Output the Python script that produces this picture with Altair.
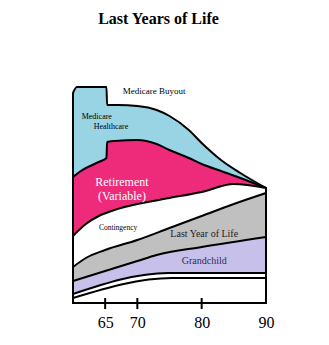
import altair as alt
import pandas as pd

# Boundary curves (height above baseline), drawn top layer first (painter's order)
medicare_ages = [60, 60.6, 65.2, 65.3, 67, 70, 73, 75, 78, 80, 83, 86, 90]
medicare_top = [210, 216, 216, 198, 198, 197, 193, 187, 173, 160, 143, 130, 115]

retire_ages = [60, 61, 62, 63, 64, 65.2, 65.3, 66.5, 70, 73, 75, 78, 80, 83, 86, 90]
retire_top = [126, 131, 135, 138, 141, 145, 161, 162, 163, 159, 153, 145, 139, 132, 125, 115]

conting_ages = [60, 62, 64, 66, 68, 70, 75, 80, 85, 90]
conting_top = [67, 79, 87, 92, 96, 99, 105, 111, 119, 115]

lastyear_ages = [60, 62, 65, 70, 75, 80, 85, 90]
lastyear_top = [36, 45, 53, 63, 75, 87, 99, 110]

grand_ages = [60, 65, 70, 73, 80, 90]
grand_top = [22, 32, 42, 48, 56, 66]

band2_ages = [60, 74.8, 90]
band2_top = [9, 30, 30]

band1_ages = [60, 75.4, 90]
band1_top = [5, 25, 25]

layer_colors = ["#98d4e4", "#ee2a7b", "#ffffff", "#c0c0c0", "#c6c0ea", "#ffffff", "#ffffff"]

label_text = ["Medicare Buyout", "Medicare", "Healthcare", "Retirement", "(Variable)",
              "Contingency", "Last Year of Life", "Grandchild"]
label_age = [72.6, 63.7, 65.9, 67.6, 67.6, 67.0, 80.4, 80.4]
label_val = [212, 186, 176, 121, 107, 75, 69, 42]
label_size = [9, 8, 8, 12, 12, 7.5, 10, 10]
label_color = ["black", "black", "black", "white", "white", "black", "#222222", "#2e2e5a"]

tick_ages = [65, 70, 80]
axis_labels = [65, 70, 80, 90]

W, H = 193, 230
xs = alt.Scale(domain=[60, 90], nice=False, zero=False)
ys = alt.Scale(domain=[0, 230], nice=False)
xaxis = alt.Axis(values=axis_labels, format="d", grid=False, ticks=False, domain=False,
                 labelFont="Liberation Serif", labelFontSize=16, labelColor="black",
                 labelPadding=11, labelFlush=False, title=None)

curves = [
    (medicare_ages, medicare_top), (retire_ages, retire_top), (conting_ages, conting_top),
    (lastyear_ages, lastyear_top), (grand_ages, grand_top), (band2_ages, band2_top),
    (band1_ages, band1_top),
]

layers = []
for (a, v), col in zip(curves, layer_colors):
    df = pd.DataFrame({"age": a, "val": v})
    layers.append(
        alt.Chart(df).mark_area(interpolate="monotone", color=col, stroke="black",
                                strokeWidth=2, opacity=1, strokeJoin="round").encode(
            x=alt.X("age:Q", scale=xs, axis=xaxis),
            y=alt.Y("val:Q", scale=ys, axis=None, stack=None),
        )
    )

lab_df = pd.DataFrame({"t": label_text, "age": label_age, "val": label_val,
                       "s": label_size, "c": label_color})
labels = alt.Chart(lab_df).mark_text(font="Liberation Serif", align="center", baseline="middle").encode(
    x=alt.X("age:Q", scale=xs, axis=xaxis),
    y=alt.Y("val:Q", scale=ys, axis=None),
    text="t:N",
    size=alt.Size("s:Q", scale=None, legend=None),
    color=alt.Color("c:N", scale=None, legend=None),
)

ticks = alt.Chart(pd.DataFrame({"age": tick_ages})).mark_rule(color="black", strokeWidth=2).encode(
    x=alt.X("age:Q", scale=xs, axis=xaxis),
    y=alt.value(H - 5),
    y2=alt.value(H + 6),
)

chart = alt.layer(*layers, ticks, labels).properties(
    width=W, height=H,
    background="white",
    title=alt.TitleParams("Last Years of Life", font="Liberation Serif", fontSize=16,
                          fontWeight="bold", color="black", offset=46, dx=-11, anchor="middle"),
    autosize=alt.AutoSizeParams(type="none"),
    padding={"left": 73, "top": 73, "right": 63, "bottom": 42},
).configure_view(stroke=None)

chart.save("out.html", embed_options={"renderer": "svg", "actions": False})
